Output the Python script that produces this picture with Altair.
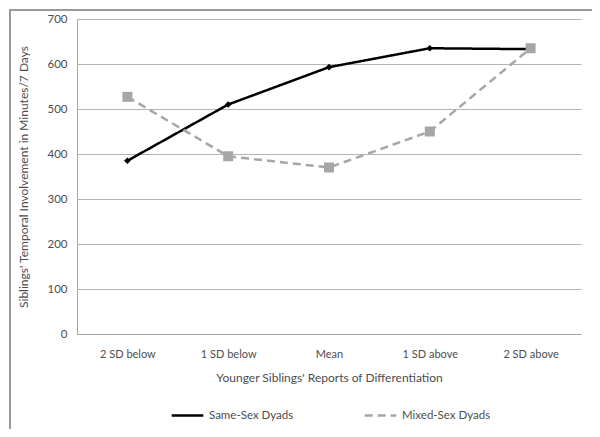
import altair as alt
import pandas as pd

categories = ["2 SD below", "1 SD below", "Mean", "1 SD above", "2 SD above"]
series_names = ["Same-Sex Dyads", "Mixed-Sex Dyads"]
marker_codes = ["same", "mixed"]
same_sex = [385, 510, 593, 635, 633]
mixed_sex = [527, 395, 370, 450, 635]
y_ticks = [0, 100, 200, 300, 400, 500, 600, 700]

rows = []
for c, v in zip(categories, same_sex):
    rows.append({"cat": c, "value": v, "series": series_names[0], "marker": marker_codes[0]})
for c, v in zip(categories, mixed_sex):
    rows.append({"cat": c, "value": v, "series": series_names[1], "marker": marker_codes[1]})
df = pd.DataFrame(rows)

FONT = "Lato"
TXT = "#4d4d4d"

x_enc = alt.X("cat:N", sort=categories, scale=alt.Scale(type="point", padding=0.5),
              axis=alt.Axis(title="Younger Siblings' Reports of Differentiation", labelAngle=0,
                            ticks=False, domainColor="#a6a6a6", labelPadding=14, titlePadding=13,
                            grid=False, labelFontSize=11))
y_enc = alt.Y("value:Q", scale=alt.Scale(domain=[0, 700], nice=False),
              axis=alt.Axis(title="Siblings' Temporal Involvement in Minutes/7 Days",
                            values=y_ticks, ticks=False, domainColor="#a6a6a6",
                            gridColor="#b3b3b3", labelPadding=10, titlePadding=16,
                            labelFontSize=11.5))

legend = alt.Legend(title=None, orient="none", legendX=93, legendY=379, direction="horizontal",
                    symbolType="stroke", symbolStrokeWidth=2.5, symbolSize=1000,
                    columnPadding=65, labelOffset=4,
                    labelFontSize=11.5, labelColor=TXT, labelFont=FONT)
color = alt.Color("series:N", scale=alt.Scale(domain=series_names, range=["#000000", "#A6A6A6"]),
                  legend=legend)
dash = alt.StrokeDash("series:N", scale=alt.Scale(domain=series_names, range=[[1, 0], [8, 5]]),
                      legend=legend)
mfill = alt.Fill("marker:N", scale=alt.Scale(domain=marker_codes, range=["#000000", "#A6A6A6"]),
                 legend=None)
shape = alt.Shape("marker:N", scale=alt.Scale(domain=marker_codes, range=["diamond", "square"]),
                  legend=None)
size = alt.Size("marker:N", scale=alt.Scale(domain=marker_codes, range=[45, 100]), legend=None)

border = alt.Chart(alt.Data(values=[{"a": 1}])).mark_rect(
    filled=False, stroke="#9a9a9a", strokeWidth=2, clip=False
).encode(x=alt.value(-67), x2=alt.value(516), y=alt.value(-9), y2=alt.value(413))

lines = alt.Chart(df).mark_line(strokeWidth=2.5).encode(x=x_enc, y=y_enc, color=color, strokeDash=dash)
points = alt.Chart(df).mark_point(filled=True, opacity=1, strokeWidth=0).encode(
    x=x_enc, y=y_enc, fill=mfill, shape=shape, size=size)

chart = alt.layer(border, lines, points).properties(
    width=504, height=315,
    autosize=alt.AutoSizeParams(type="none"),
    padding={"left": 69, "top": 11, "right": 11, "bottom": 95},
).configure_view(stroke=None).configure_axis(
    labelFont=FONT, titleFont=FONT, titleFontSize=12,
    labelColor=TXT, titleColor=TXT, titleFontWeight="normal"
)

chart.save("out.html", embed_options={"renderer": "svg", "actions": False})
